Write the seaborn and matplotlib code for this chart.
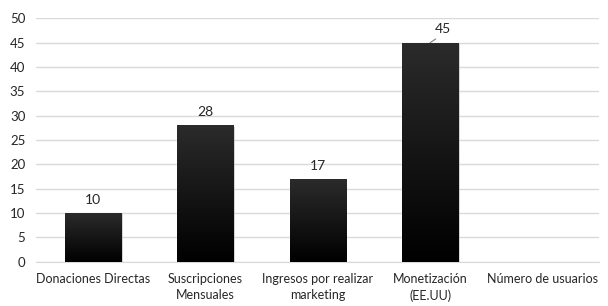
import numpy as np
import pandas as pd
import matplotlib
matplotlib.use("Agg")
import matplotlib.pyplot as plt
import seaborn as sns
from matplotlib.colors import LinearSegmentedColormap

categorias = ["Donaciones Directas", "Suscripciones\nMensuales", "Ingresos por realizar\nmarketing",
              "Monetización\n(EE.UU)", "Número de usuarios"]
valores = [10, 28, 17, 45, np.nan]

df = pd.DataFrame({"categoria": categorias, "valor": valores})

sns.set_style("white")
plt.rcParams["font.family"] = ["Lato", "DejaVu Sans"]

fig, ax = plt.subplots(figsize=(6.08, 3.06), dpi=100)
fig.subplots_adjust(left=0.06, right=0.985, top=0.94, bottom=0.145)

sns.barplot(data=df, x="categoria", y="valor", color="#111111", width=0.5, ax=ax, zorder=3)

ax.set_ylim(0, 50)
ax.set_yticks(range(0, 51, 5))
ax.yaxis.grid(True, color="#d9d9d9", linewidth=1, zorder=0)
ax.set_axisbelow(True)
for s in ["top", "right", "left"]:
    ax.spines[s].set_visible(False)
ax.spines["bottom"].set_color("#d9d9d9")
ax.tick_params(axis="both", length=0, labelsize=9.5, colors="#262626")
ax.tick_params(axis="x", pad=8, labelsize=9)
ax.tick_params(axis="y", pad=8)
plt.setp(ax.get_xticklabels(), linespacing=1.45)
ax.set_xlabel("")
ax.set_ylabel("")

# gradiente en las barras (gris oscuro arriba, negro abajo) y sombra
cmap = LinearSegmentedColormap.from_list("g", ["#000000", "#2b2b2b"])
grad = np.linspace(0, 1, 256).reshape(-1, 1)
for patch in ax.patches:
    x0, y0 = patch.get_x(), patch.get_y()
    w, h = patch.get_width(), patch.get_height()
    if not np.isfinite(h) or h == 0:
        continue
    shadow = plt.Rectangle((x0 + 0.015, y0), w, h - 0.3, color="#999999", alpha=0.5, zorder=2.5, lw=0)
    ax.add_patch(shadow)
    im = ax.imshow(grad, extent=[x0, x0 + w, y0, y0 + h], origin="lower", cmap=cmap,
                   aspect="auto", zorder=3.5)
    im.set_clip_path(patch)
ax.set_xlim(-0.5, len(categorias) - 0.5)

for i, v in enumerate(valores):
    if not np.isfinite(v):
        continue
    if v == 45:
        ax.annotate(f"{v:g}", xy=(i, v), xytext=(i + 0.11, v + 1.6), ha="center", va="bottom",
                    fontsize=10, color="#262626",
                    arrowprops=dict(arrowstyle="-", color="#808080", lw=0.8, shrinkA=1, shrinkB=0,
                                    relpos=(0.45, 0)),
                    annotation_clip=False)
    else:
        ax.text(i, v + 1.5, f"{v:g}", ha="center", va="bottom", fontsize=10, color="#262626")

fig.savefig("out.png", dpi=100)
